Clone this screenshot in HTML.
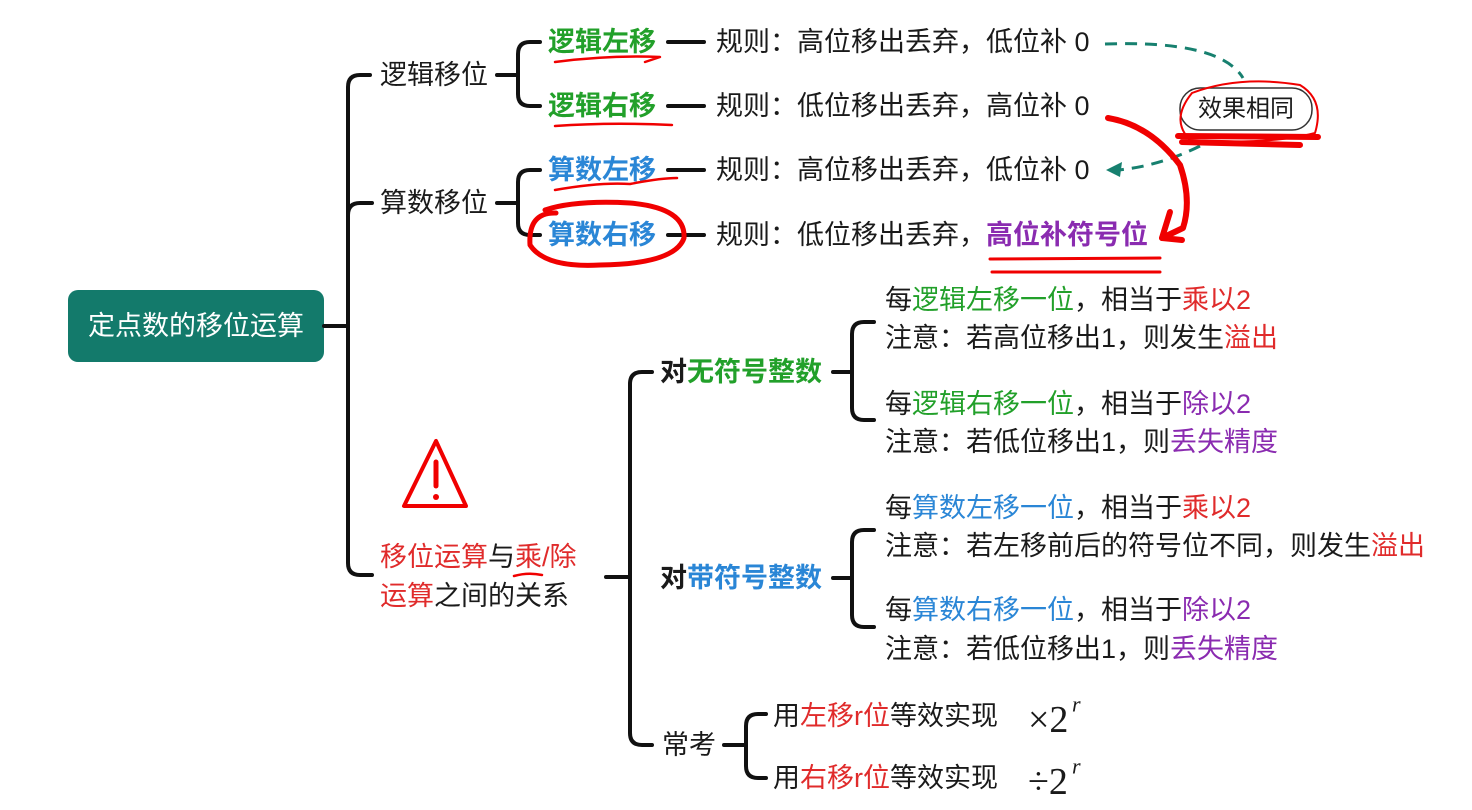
<!DOCTYPE html>
<html><head><meta charset="utf-8"><style>
html,body{margin:0;padding:0;background:#fff;}
svg{display:block;}
text{font-family:"Liberation Sans","Noto Sans CJK SC",sans-serif;font-size:27px;fill:#1a1a1a;dominant-baseline:central;}
.g{fill:#22a02a;font-weight:bold;}
.gn{fill:#22a02a;}
.b{fill:#2a86d6;font-weight:bold;}
.bn{fill:#2a86d6;}
.r{fill:#e02b2b;}
.p{fill:#8a2bb0;}
.bold{font-weight:bold;}
.ln{stroke:#111;stroke-width:4;fill:none;stroke-linecap:round;}
.red{stroke:#f00000;fill:none;stroke-linecap:round;stroke-linejoin:round;}
</style></head><body>
<svg width="1472" height="810" viewBox="0 0 1472 810" xmlns="http://www.w3.org/2000/svg">
<rect x="68" y="290" width="256" height="72" rx="10" fill="#137a6b"/>
<text x="196" y="326" text-anchor="middle" style="fill:#fff">定点数的移位运算</text>
<path class="ln" d="M324 326 H348"/>
<path class="ln" d="M370 75 H360 Q348 75 348 87 V563 Q348 575 360 575 H372"/>
<path class="ln" d="M348 215 Q348 203 360 203 H372"/>
<text x="380" y="75">逻辑移位</text>
<text x="380" y="203">算数移位</text>
<path class="ln" d="M497 75 H517"/>
<path class="ln" d="M540 42 H530 Q518 42 518 54 V94 Q518 106 530 106 H540"/>
<text x="548" y="42" class="g">逻辑左移</text>
<text x="548" y="106" class="g">逻辑右移</text>
<path class="ln" d="M668 42 H704"/><path class="ln" d="M668 106 H704"/>
<text x="716" y="42">规则：高位移出丢弃，低位补 0</text>
<text x="716" y="106">规则：低位移出丢弃，高位补 0</text>
<path class="ln" d="M497 203 H517"/>
<path class="ln" d="M540 170 H530 Q518 170 518 182 V223 Q518 235 530 235 H540"/>
<text x="548" y="170" class="b">算数左移</text>
<text x="548" y="235" class="b">算数右移</text>
<path class="ln" d="M668 170 H704"/><path class="ln" d="M668 235 H704"/>
<text x="716" y="170">规则：高位移出丢弃，低位补 0</text>
<text x="716" y="235">规则：低位移出丢弃，<tspan class="p bold">高位补符号位</tspan></text>
<rect x="1180" y="88" width="132" height="42" rx="20" fill="#fff" stroke="#333" stroke-width="1.5"/>
<text x="1246" y="109" text-anchor="middle" style="font-size:24px">效果相同</text>
<path d="M1105 44 Q1220 40 1243 78" stroke="#17806f" stroke-width="3" stroke-dasharray="12 8" fill="none"/>
<path d="M1200 146 Q1160 166 1118 170" stroke="#17806f" stroke-width="3" stroke-dasharray="12 8" fill="none"/>
<path d="M1106 170 L1122 162 L1120 177 Z" fill="#17806f"/>
<path class="red" stroke-width="2.5" d="M555 62 Q610 55 660 57 L645 62"/>
<path class="red" stroke-width="2.5" d="M555 126 Q610 122 672 125"/>
<path class="red" stroke-width="2.5" d="M555 190 Q600 182 630 184 Q660 178 677 178"/>
<path class="red" stroke-width="5" d="M556 213 Q528 212 530 245 Q545 268 600 265 Q675 264 684 238 Q686 208 630 203 Q575 200 545 210"/>
<path class="red" stroke-width="2" d="M1192 93 Q1240 75 1300 85 Q1325 100 1315 133 Q1270 145 1190 140 Q1170 120 1192 93"/>
<path class="red" stroke-width="6" d="M1178 136 L1318 137 M1182 142 L1300 145"/>
<path class="red" stroke-width="6" d="M1108 118 Q1150 125 1180 165 Q1192 200 1183 228 L1162 238"/>
<path class="red" stroke-width="6" d="M1170 212 L1162 238 L1182 240"/>
<path class="red" stroke-width="3" d="M990 259 L1160 258 M992 272 L1160 272"/>
<path class="red" stroke-width="2.5" d="M514 576 Q528 572 542 575"/>
<path d="M436 441 L404 506 L466 506 Z" fill="none" stroke="#f00000" stroke-width="4" stroke-linejoin="round"/>
<path d="M436 462 L436 486" stroke="#f00000" stroke-width="5" stroke-linecap="round"/>
<circle cx="436" cy="497" r="3" fill="#f00000"/>
<text x="380" y="557"><tspan class="r">移位运算</tspan>与<tspan class="r">乘/除</tspan></text>
<text x="380" y="596"><tspan class="r">运算</tspan>之间的关系</text>
<path class="ln" d="M606 577 H630"/>
<path class="ln" d="M652 372 H642 Q630 372 630 384 V733 Q630 745 642 745 H652"/>
<text x="660" y="372" class="bold">对<tspan class="g">无符号整数</tspan></text>
<text x="660" y="578" class="bold">对<tspan class="b">带符号整数</tspan></text>
<text x="662" y="745">常考</text>
<path class="ln" d="M833 372 H852"/>
<path class="ln" d="M874 322 H864 Q852 322 852 334 V408 Q852 420 864 420 H874"/>
<text x="885" y="300">每<tspan class="gn">逻辑左移一位</tspan>，相当于<tspan class="r">乘以2</tspan></text>
<text x="885" y="338">注意：若高位移出1，则发生<tspan class="r">溢出</tspan></text>
<text x="885" y="404">每<tspan class="gn">逻辑右移一位</tspan>，相当于<tspan class="p">除以2</tspan></text>
<text x="885" y="442">注意：若低位移出1，则<tspan class="p">丢失精度</tspan></text>
<path class="ln" d="M833 578 H852"/>
<path class="ln" d="M874 530 H864 Q852 530 852 542 V615 Q852 627 864 627 H874"/>
<text x="885" y="508">每<tspan class="bn">算数左移一位</tspan>，相当于<tspan class="r">乘以2</tspan></text>
<text x="885" y="546">注意：若左移前后的符号位不同，则发生<tspan class="r">溢出</tspan></text>
<text x="885" y="610">每<tspan class="bn">算数右移一位</tspan>，相当于<tspan class="p">除以2</tspan></text>
<text x="885" y="649">注意：若低位移出1，则<tspan class="p">丢失精度</tspan></text>
<path class="ln" d="M724 745 H744"/>
<path class="ln" d="M766 714 H758 Q746 714 746 726 V766 Q746 778 758 778 H766"/>
<text x="773" y="716">用<tspan class="r">左移r位</tspan>等效实现</text>
<text x="773" y="778">用<tspan class="r">右移r位</tspan>等效实现</text>
<text x="1028" y="720" style="font-family:'Liberation Serif',serif;font-size:38px">×2</text>
<text x="1072" y="704" style="font-family:'Liberation Serif',serif;font-size:22px;font-style:italic">r</text>
<text x="1028" y="782" style="font-family:'Liberation Serif',serif;font-size:38px">÷2</text>
<text x="1072" y="766" style="font-family:'Liberation Serif',serif;font-size:22px;font-style:italic">r</text>
</svg>
</body></html>
